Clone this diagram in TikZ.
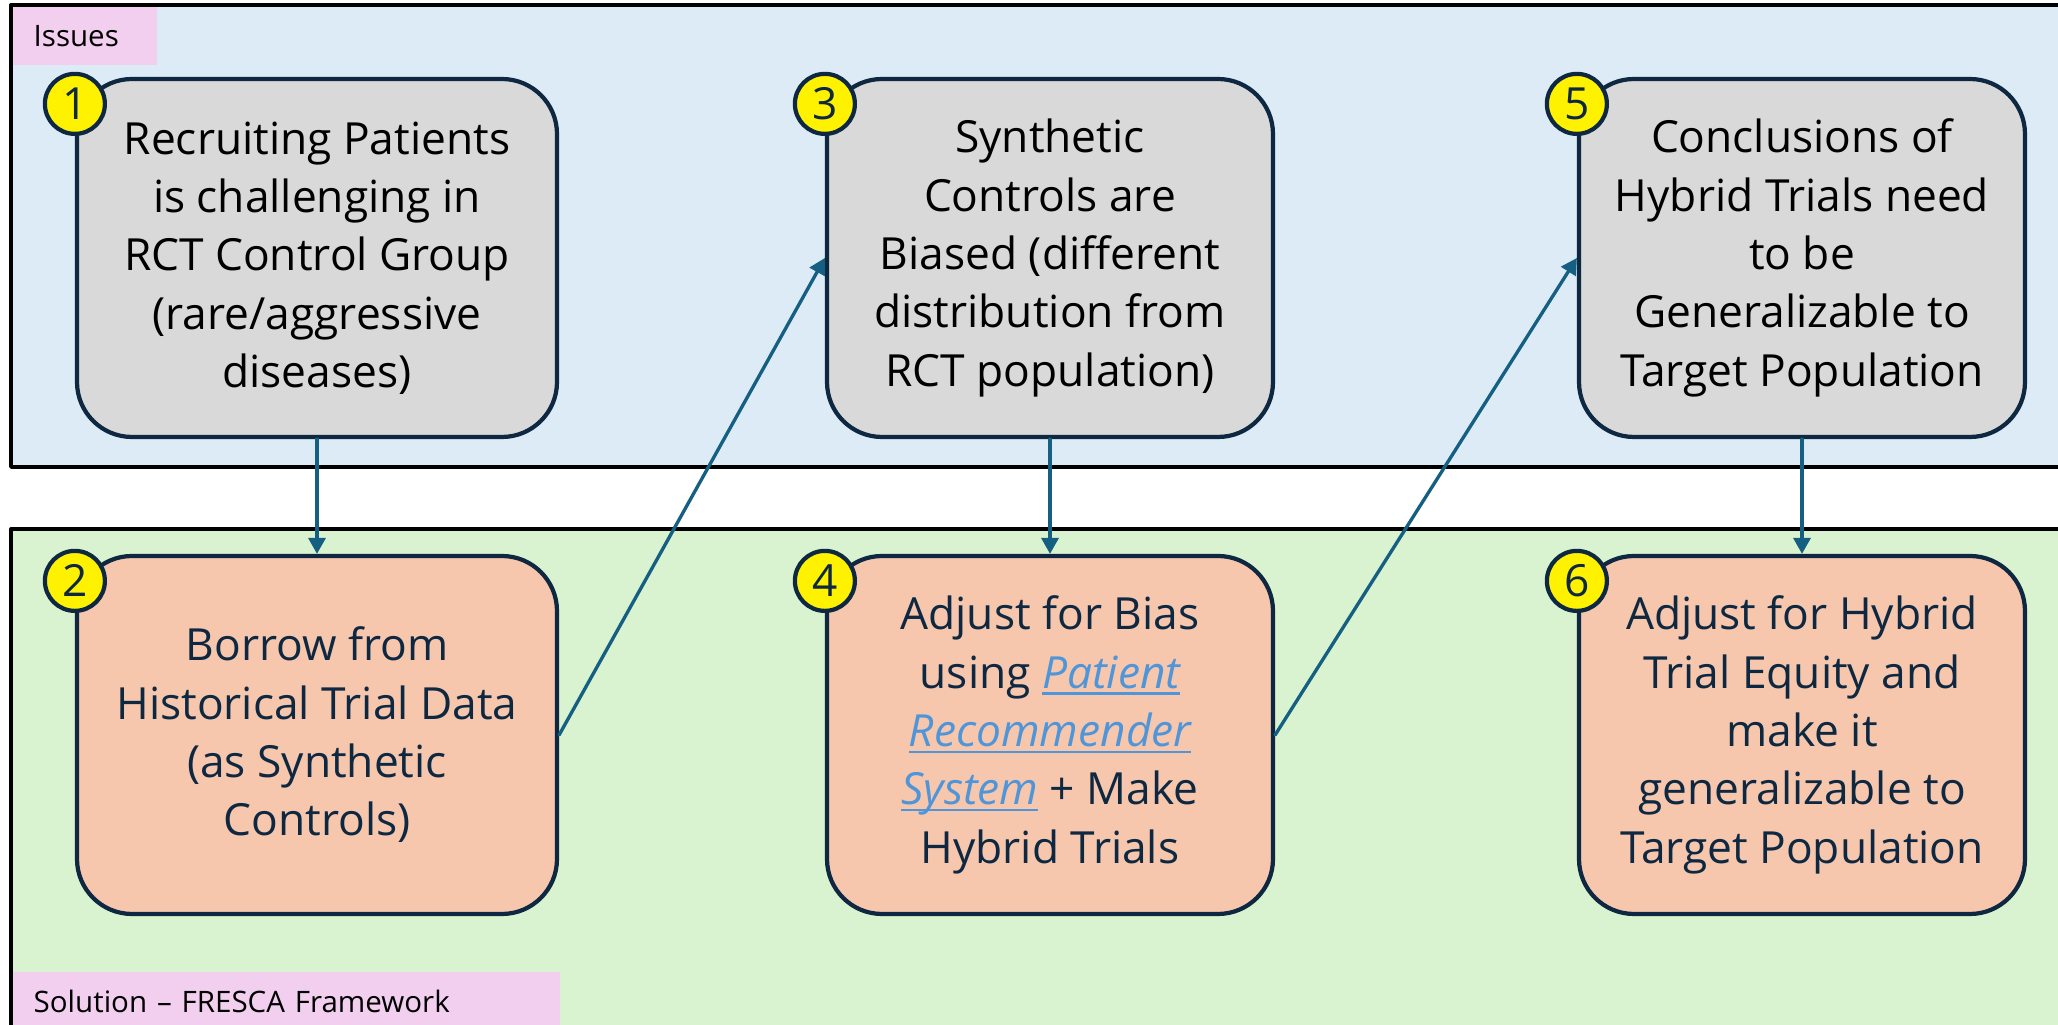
\documentclass[tikz,border=0pt]{standalone}
\usepackage{fontspec}
\setmainfont{Open Sans}
\usetikzlibrary{arrows.meta}
\definecolor{issuebg}{HTML}{DDEBF7}
\definecolor{solbg}{HTML}{D9F2D0}
\definecolor{tagpink}{HTML}{F2CEEF}
\definecolor{boxgray}{HTML}{D9D9D9}
\definecolor{boxsalmon}{HTML}{F6C6AD}
\definecolor{navy}{HTML}{0E2841}
\definecolor{flowblue}{HTML}{156082}
\definecolor{linkblue}{HTML}{4E95D9}
\newcommand\lnk[1]{{\color{linkblue}\itshape\setbox0\hbox{#1}\rlap{\rule[-1.8pt]{\wd0}{0.6pt}}\box0}}
\begin{document}
\begin{tikzpicture}[x=0.1mm,y=-0.1mm,>={Triangle[length=1.6mm,width=1.7mm]},line join=round,line cap=round,
            card/.style={draw=navy,line width=1.2pt,rounded corners=5.5mm,align=center,minimum height=35.8mm,inner sep=0pt,font=\fontsize{12.6}{16.6}\selectfont},
            issue/.style={card,fill=boxgray,text=black},
            fix/.style={card,fill=boxsalmon,text=navy},
            badge/.style={circle,draw=navy,line width=1.2pt,fill=yellow,text=navy,minimum size=6mm,inner sep=0pt,font=\fontsize{12.6}{14}\selectfont},
            tag/.style={fill=tagpink,anchor=north west,inner xsep=2.1mm,inner ysep=0pt,align=left,font=\fontsize{8.4}{10}\selectfont},
            flow/.style={->,draw=flowblue,line width=0.95pt}]
            \useasboundingbox (0,0) rectangle (2058,1025);
            \filldraw[fill=issuebg,line width=1.1pt] (11,5) rectangle (2090,467);
            \filldraw[fill=solbg,line width=1.1pt] (11,529) rectangle (2090,1060);
            \node[tag,text width=10.2mm,minimum height=5.8mm] (iss) at (12,6) {Issues};
            \node[tag,text width=50.5mm,minimum height=6mm] (sol) at (12,971) {Solution – FRESCA Framework};
            \node[issue,minimum width=48mm] (b1) at (317,258) {Recruiting Patients\\is challenging in\\RCT Control Group\\(rare/aggressive\\diseases)};
            \node[issue,minimum width=44.6mm] (b3) at (1050,258) {Synthetic\\Controls are\\Biased (different\\distribution from\\RCT population)};
            \node[issue,minimum width=44.6mm] (b5) at (1802,258) {Conclusions of\\Hybrid Trials need\\to be\\Generalizable to\\Target Population};
            \node[fix,minimum width=48mm] (b2) at (317,735) {Borrow from\\Historical Trial Data\\(as Synthetic\\Controls)};
            \node[fix,minimum width=44.6mm] (b4) at (1050,735) {Adjust for Bias\\using \lnk{Patient}\\\lnk{Recommender}\\\lnk{System} + Make\\Hybrid Trials};
            \node[fix,minimum width=44.6mm] (b6) at (1802,735) {Adjust for Hybrid\\Trial Equity and\\make it\\generalizable to\\Target Population};
            \foreach \n in {1,...,6}
            \node[badge] (n\n) at ([yshift=-2.7mm]b\n.north west) {\n};
            \foreach \a/\b in {1/2,3/4,5/6}
            \draw[flow] (b\a.south) -- (b\b.north);
            \foreach \a/\b in {2/3,4/5}
            \draw[flow] (b\a.east) -- (b\b.west);
    \end{tikzpicture}
\end{document}
